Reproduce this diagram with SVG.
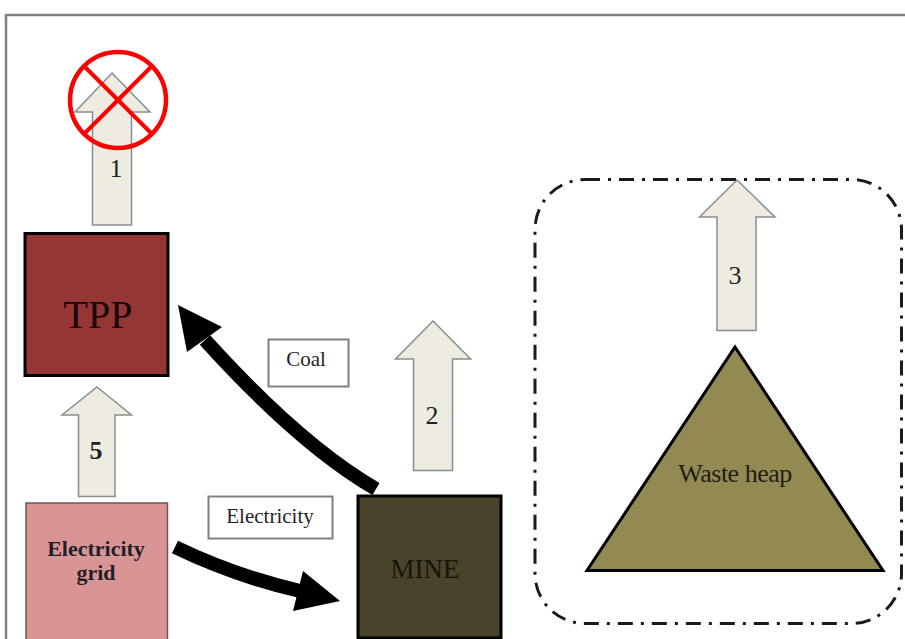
<svg xmlns="http://www.w3.org/2000/svg" width="905" height="639" viewBox="0 0 905 639">
<style>
.arrow{fill:#eeece1;stroke:#8c8c8c;stroke-width:1.5;stroke-linejoin:miter}
.num{font-family:"Liberation Serif",serif;font-size:26px;fill:#1f1f2a;text-anchor:middle}
.lbl{font-family:"Liberation Serif",serif;font-size:21px;fill:#1f1f2a;text-anchor:middle}
.lblbox{fill:#ffffff;stroke:#808080;stroke-width:2}
.flow{fill:none;stroke:#000;stroke-width:14}
</style>
<rect x="0" y="0" width="905" height="639" fill="#ffffff"/>
<path d="M6 639 V15 H905" fill="none" stroke="#808080" stroke-width="2.5"/>

<g id="waste-area">
<rect x="535" y="179.5" width="366.5" height="444" rx="50" ry="50" fill="none" stroke="#1a1a1a" stroke-width="3" stroke-dasharray="15 8 3 8"/>
</g>

<g id="arrow1">
<polygon class="arrow" points="112,73 150,112 131.5,112 131.5,225 92.5,225 92.5,112 75,112"/>
<text class="num" x="116" y="177">1</text>
</g>
<g id="prohibited">
<circle cx="118" cy="100" r="48" fill="none" stroke="#ff0000" stroke-width="4.5"/>
<line x1="84" y1="66" x2="152" y2="134" stroke="#ff0000" stroke-width="4"/>
<line x1="152" y1="66" x2="84" y2="134" stroke="#ff0000" stroke-width="4"/>
</g>

<g id="tpp">
<rect x="25" y="233.5" width="143" height="142" fill="#943634" stroke="#000" stroke-width="3"/>
<text x="98" y="328" font-family="Liberation Serif,serif" font-size="40" fill="#1a0808" text-anchor="middle">TPP</text>
</g>

<g id="arrow5">
<polygon class="arrow" points="97,387 131.5,415 115,415 115,496.5 78.5,496.5 78.5,415 62,415"/>
<text class="num" x="96" y="459" font-weight="bold">5</text>
</g>

<g id="grid">
<rect x="26" y="503" width="141.5" height="140" fill="#d99594" stroke="#6f5555" stroke-width="1.5"/>
<text x="96" y="556" font-family="Liberation Serif,serif" font-size="22" font-weight="bold" fill="#1f1f2a" text-anchor="middle">Electricity</text>
<text x="96" y="580" font-family="Liberation Serif,serif" font-size="22" font-weight="bold" fill="#1f1f2a" text-anchor="middle">grid</text>
</g>

<g id="mine">
<rect x="358" y="496" width="143" height="142" fill="#494429" stroke="#000" stroke-width="3"/>
<text x="425" y="578" font-family="Liberation Serif,serif" font-size="27" fill="#15150c" text-anchor="middle">MINE</text>
</g>

<g id="arrow2">
<polygon class="arrow" points="433,321 470.5,359 452.5,359 452.5,470.5 413.5,470.5 413.5,359 395.5,359"/>
<text class="num" x="432" y="424">2</text>
</g>

<g id="arrow3">
<polygon class="arrow" points="737,180 775,217 756,217 756,330.5 717,330.5 717,217 699.5,217"/>
<text class="num" x="735" y="284">3</text>
</g>

<g id="waste-heap">
<polygon points="735,347 883,570.5 587,570.5" fill="#938953" stroke="#000" stroke-width="3" stroke-linejoin="miter"/>
<text x="735" y="482" font-family="Liberation Serif,serif" font-size="26" fill="#1f1f10" text-anchor="middle" letter-spacing="-0.5">Waste heap</text>
</g>

<g id="connectors">
<path class="flow" d="M376 489 Q300 445 205 340"/>
<polygon points="178,305 222,327 187,352" fill="#000"/>
<path class="flow" d="M175 547 Q235 576 300 591"/>
<polygon points="340,601 303,571 293,611" fill="#000"/>
</g>

<g id="label-coal">
<rect class="lblbox" x="268.5" y="339.5" width="80" height="47"/>
<text class="lbl" x="306" y="366">Coal</text>
</g>
<g id="label-electricity">
<rect class="lblbox" x="208.5" y="496.5" width="124" height="42"/>
<text class="lbl" x="270" y="523">Electricity</text>
</g>
</svg>
